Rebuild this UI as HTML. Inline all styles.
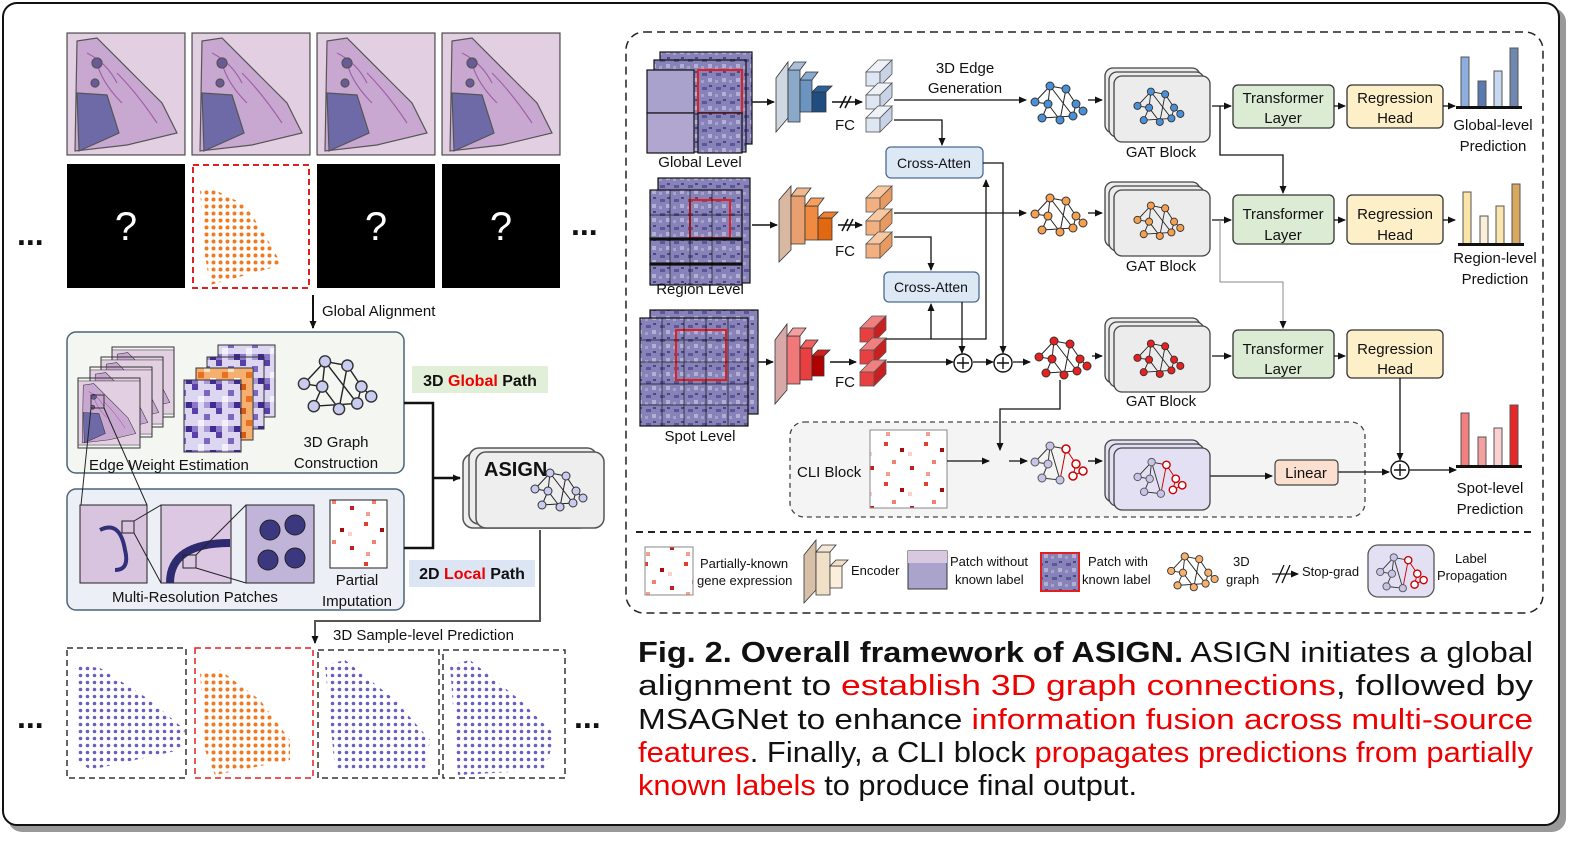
<!DOCTYPE html>
<html><head><meta charset="utf-8"><style>
html,body{margin:0;padding:0;background:#fff;}
svg{display:block;font-family:"Liberation Sans",Arial,sans-serif;}
</style></head><body>
<svg width="1595" height="844" viewBox="0 0 1595 844" xmlns="http://www.w3.org/2000/svg">
<defs>
<marker id="ar" markerWidth="8" markerHeight="8" refX="7" refY="4" orient="auto" markerUnits="userSpaceOnUse"><path d="M0,0.5 L8,4 L0,7.5 z" fill="#111"/></marker>
<pattern id="tis" width="14" height="14" patternUnits="userSpaceOnUse">
<rect width="14" height="14" fill="#8783b8"/><rect x="2" y="3" width="5" height="3" fill="#5b5799"/><rect x="8" y="8" width="4" height="4" fill="#b3aed3"/><rect x="9" y="1" width="3" height="2" fill="#4c4888"/><rect x="1" y="10" width="3" height="3" fill="#a6a0cc"/></pattern>
<pattern id="odots" width="7" height="7" patternUnits="userSpaceOnUse"><circle cx="3.5" cy="3.5" r="2" fill="#f07a22"/></pattern>
<pattern id="pdots" width="7" height="7" patternUnits="userSpaceOnUse"><circle cx="3.5" cy="3.5" r="1.8" fill="#6a5fc0"/></pattern>
<pattern id="pgrid" width="24" height="24" patternUnits="userSpaceOnUse"><rect width="24" height="24" fill="#dcd6f0"/><rect width="6" height="6" fill="#5a3fa8"/><rect x="12" y="6" width="6" height="6" fill="#7c66c0"/><rect x="6" y="12" width="6" height="6" fill="#f3f0fb"/><rect x="18" y="18" width="6" height="6" fill="#3f2a90"/><rect x="12" y="18" width="6" height="6" fill="#a898d8"/><rect x="0" y="18" width="6" height="6" fill="#8a78c8"/></pattern>
<pattern id="ogrid" width="24" height="24" patternUnits="userSpaceOnUse"><rect width="24" height="24" fill="#f5b070"/><rect width="6" height="6" fill="#d85a10"/><rect x="12" y="6" width="6" height="6" fill="#fbe0c8"/><rect x="6" y="12" width="6" height="6" fill="#e87020"/><rect x="18" y="18" width="6" height="6" fill="#fff"/></pattern>
<pattern id="rmat" width="40" height="40" patternUnits="userSpaceOnUse"><rect width="40" height="40" fill="#fff"/><rect x="4" y="2" width="4" height="4" fill="#e04030"/><rect x="20" y="8" width="4" height="4" fill="#a01010"/><rect x="12" y="20" width="4" height="4" fill="#f08070"/><rect x="30" y="26" width="4" height="4" fill="#c02020"/><rect x="6" y="32" width="4" height="4" fill="#f4a090"/><rect x="28" y="12" width="4" height="4" fill="#fbd0c8"/></pattern>
<symbol id="gr" viewBox="0 0 56 42" overflow="visible">
<g stroke="#222" stroke-width="1" fill="none"><path d="M5,22 L20,6 M5,22 L18,24 M20,6 L18,24 M20,6 L36,9 M36,9 L30,40 M18,24 L12,38 M12,38 L43,36 M36,9 L46,24 M46,24 L43,36 M20,6 L43,36 M18,24 L30,40 M46,24 L53,31"/></g>
<g stroke="#333" stroke-width="1"><circle cx="5" cy="22" r="4"/><circle cx="20" cy="6" r="4"/><circle cx="18" cy="24" r="4"/><circle cx="36" cy="9" r="4"/><circle cx="46" cy="24" r="4"/><circle cx="12" cy="38" r="4"/><circle cx="43" cy="36" r="4"/><circle cx="30" cy="40" r="4"/><circle cx="53" cy="31" r="4"/></g>
</symbol>
<symbol id="lp" viewBox="0 0 56 42" overflow="visible">
<g stroke="#333" stroke-width="1" fill="none"><path d="M5,22 L20,6 M5,22 L18,24 M20,6 L18,24 M20,6 L36,9 M18,24 L12,38 M12,38 L30,40 M20,6 L30,40"/><path d="M36,9 L46,24 M46,24 L43,36 M43,36 L53,31 M36,9 L30,40" stroke="#c00"/></g>
<g stroke="#555" fill="#c8c4e8"><circle cx="5" cy="22" r="4"/><circle cx="20" cy="6" r="4"/><circle cx="18" cy="24" r="4"/><circle cx="12" cy="38" r="4"/><circle cx="30" cy="40" r="4"/></g>
<g stroke="#c00" fill="#fff" stroke-width="1.5"><circle cx="36" cy="9" r="4"/><circle cx="46" cy="24" r="4"/><circle cx="43" cy="36" r="4"/><circle cx="53" cy="31" r="4"/></g>
</symbol>
<symbol id="tissue" viewBox="0 0 118 122">
<rect width="118" height="122" fill="#e2d0e2"/>
<polygon points="10,8 30,5 70,45 95,70 110,100 60,112 8,118" fill="#c8a8d0"/>
<polygon points="10,60 40,62 52,100 12,118" fill="#6e6aa8"/>
<path d="M20,20 q20,10 30,30 M50,40 q20,20 40,50 M30,30 q5,20 25,40" stroke="#a060a8" fill="none"/>
<circle cx="30" cy="30" r="5" fill="#6a5a98"/><circle cx="28" cy="50" r="4" fill="#6a5a98"/>
</symbol>
</defs>

<!-- outer frame -->
<rect x="8" y="8" width="1558" height="824" rx="14" fill="#999"/>
<rect x="3" y="3" width="1556" height="822" rx="14" fill="#fff" stroke="#111" stroke-width="2"/>

<!-- LEFT top tissue row -->
<g stroke="#555" stroke-width="1.2">
<use href="#tissue" x="67" y="33" width="118" height="122"/><rect x="67" y="33" width="118" height="122" fill="none"/>
<use href="#tissue" x="192" y="33" width="118" height="122"/><rect x="192" y="33" width="118" height="122" fill="none"/>
<use href="#tissue" x="317" y="33" width="118" height="122"/><rect x="317" y="33" width="118" height="122" fill="none"/>
<use href="#tissue" x="442" y="33" width="118" height="122"/><rect x="442" y="33" width="118" height="122" fill="none"/>
</g>
<rect x="67" y="164" width="118" height="124" fill="#000"/>
<rect x="317" y="164" width="118" height="124" fill="#000"/>
<rect x="442" y="164" width="118" height="124" fill="#000"/>
<g fill="#fff" font-size="40" text-anchor="middle"><text x="126" y="240">?</text><text x="376" y="240">?</text><text x="501" y="240">?</text></g>
<rect x="193" y="165" width="116" height="123" fill="#fff" stroke="#e02020" stroke-width="2" stroke-dasharray="6,4"/>
<polygon points="200,190 215,190 245,205 265,235 282,265 210,285 205,255" fill="url(#odots)"/>
<g font-size="32" font-weight="bold" fill="#111"><text x="17" y="245">...</text><text x="571" y="235">...</text><text x="17" y="728">...</text><text x="574" y="728">...</text></g>

<line x1="313" y1="295" x2="313" y2="328" stroke="#111" stroke-width="2" marker-end="url(#ar)"/>
<text x="322" y="316" font-size="15" fill="#111">Global Alignment</text>

<!-- green box -->
<rect x="67" y="332" width="337" height="141" rx="9" fill="#f4f7f1" stroke="#4a6478" stroke-width="1.5"/>
<g stroke="#333" stroke-width="1">
<use href="#tissue" x="112" y="347" width="62" height="70"/><rect x="112" y="347" width="62" height="70" fill="none"/>
<use href="#tissue" x="101" y="357" width="62" height="70"/><rect x="101" y="357" width="62" height="70" fill="none"/>
<use href="#tissue" x="90" y="367" width="62" height="70"/><rect x="90" y="367" width="62" height="70" fill="none"/>
<use href="#tissue" x="78" y="378" width="62" height="70"/><rect x="78" y="378" width="62" height="70" fill="none"/>
<rect x="91" y="395" width="13" height="13" fill="none"/>
<rect x="218" y="345" width="57" height="72" fill="url(#pgrid)"/>
<rect x="207" y="357" width="57" height="72" fill="url(#pgrid)"/>
<rect x="196" y="368" width="57" height="72" fill="url(#ogrid)"/>
<rect x="184" y="380" width="57" height="72" fill="url(#pgrid)"/>
</g>
<g transform="translate(297,353) scale(1.4)" fill="#c9cbef"><use href="#gr" width="56" height="42" style="fill:#c9cbef"/></g>
<text x="89" y="470" font-size="15" fill="#111">Edge Weight Estimation</text>
<text x="336" y="447" font-size="15" fill="#111" text-anchor="middle">3D Graph</text>
<text x="336" y="468" font-size="15" fill="#111" text-anchor="middle">Construction</text>

<!-- blue box -->
<rect x="67" y="489" width="337" height="121" rx="9" fill="#eceff6" stroke="#4a6478" stroke-width="1.5"/>
<g stroke="#222" stroke-width="1">
<rect x="80" y="505" width="67" height="78" fill="#d8c4df"/><path d="M100,530 q20,-10 25,20 q5,20 -10,20" stroke="#33307a" stroke-width="4" fill="none"/>
<rect x="161" y="505" width="70" height="78" fill="#dcc8e2"/><path d="M170,583 q0,-40 60,-40" stroke="#2e2a70" stroke-width="8" fill="none"/>
<rect x="246" y="505" width="68" height="78" fill="#c0b4d8"/><circle cx="270" cy="530" r="10" fill="#3c3880"/><circle cx="295" cy="525" r="10" fill="#3c3880"/><circle cx="268" cy="560" r="10" fill="#3c3880"/><circle cx="295" cy="558" r="10" fill="#3c3880"/>
<rect x="122" y="521" width="12" height="12" fill="none"/><rect x="183" y="555" width="13" height="13" fill="none"/>
<path d="M91,408 L81,505 M104,408 L147,505 M134,521 L161,505 M134,533 L161,583 M196,555 L246,505 M196,568 L246,583"/>
<rect x="330" y="500" width="57" height="68" fill="url(#rmat)"/>
</g>
<text x="112" y="602" font-size="15" fill="#111">Multi-Resolution Patches</text>
<text x="357" y="585" font-size="15" fill="#111" text-anchor="middle">Partial</text>
<text x="357" y="606" font-size="15" fill="#111" text-anchor="middle">Imputation</text>

<rect x="412" y="366" width="136" height="27" fill="#e1efd8"/>
<text x="480" y="386" font-size="16" font-weight="bold" text-anchor="middle" fill="#111">3D <tspan fill="#e00">Global</tspan> Path</text>
<rect x="409" y="560" width="126" height="27" fill="#dce5f4"/>
<text x="472" y="579" font-size="16" font-weight="bold" text-anchor="middle" fill="#111">2D <tspan fill="#e00">Local</tspan> Path</text>

<path d="M404,403 H433 V548 H404" stroke="#111" stroke-width="2.5" fill="none"/>
<line x1="433" y1="478" x2="460" y2="478" stroke="#111" stroke-width="2.5" marker-end="url(#ar)"/>
<!-- ASIGN -->
<rect x="463" y="454" width="126" height="74" rx="10" fill="#eee" stroke="#555" stroke-width="1.5"/>
<rect x="469" y="448" width="128" height="76" rx="10" fill="#eee" stroke="#555" stroke-width="1.5"/>
<rect x="476" y="452" width="128" height="76" rx="10" fill="#eee" stroke="#555" stroke-width="1.5"/>
<text x="484" y="476" font-size="20" font-weight="bold" fill="#111">ASIGN</text>
<use href="#gr" x="530" y="467" width="56" height="42" style="fill:#c9cbef"/>
<path d="M540,530 V621 H315 V643" stroke="#555" stroke-width="2" fill="none" marker-end="url(#ar)"/>
<text x="333" y="640" font-size="15" fill="#111">3D Sample-level Prediction</text>

<!-- bottom row -->
<g fill="#fff" stroke-width="1.5" stroke-dasharray="6,4">
<rect x="67" y="648" width="119" height="130" stroke="#333"/>
<rect x="195" y="648" width="118" height="130" stroke="#e02020"/>
<rect x="318" y="650" width="121" height="128" stroke="#333"/>
<rect x="443" y="650" width="122" height="128" stroke="#333"/>
</g>
<polygon points="75,665 100,668 150,700 185,730 180,750 90,770 78,760" fill="url(#pdots)"/>
<polygon points="200,672 220,670 260,700 290,740 290,760 215,775 205,750" fill="url(#odots)"/>
<polygon points="325,665 345,660 395,700 430,740 425,770 335,770" fill="url(#pdots)"/>
<polygon points="450,665 470,660 520,700 555,735 545,770 458,775" fill="url(#pdots)"/>

<!-- RIGHT PANEL -->
<rect x="626" y="32" width="917" height="581" rx="18" fill="none" stroke="#222" stroke-width="1.5" stroke-dasharray="8,5"/>
<line x1="636" y1="532" x2="1535" y2="532" stroke="#222" stroke-width="2" stroke-dasharray="7,5"/>

<!-- patch stacks -->
<g stroke="#111" stroke-width="1.2">
<rect x="660" y="52" width="92" height="92" fill="url(#tis)"/>
<rect x="654" y="60" width="92" height="92" fill="url(#tis)"/>
<rect x="647" y="70" width="47" height="43" fill="#a8a2cc"/><rect x="698" y="70" width="44" height="43" fill="url(#tis)" stroke="#e02020" stroke-width="2"/>
<rect x="647" y="113" width="47" height="40" fill="#b0a6d0"/><rect x="698" y="113" width="44" height="40" fill="url(#tis)"/>
<rect x="658" y="178" width="92" height="105" fill="url(#tis)"/>
<rect x="650" y="190" width="92" height="95" fill="url(#tis)"/>
<rect x="690" y="200" width="40" height="38" fill="none" stroke="#e02020" stroke-width="2"/>
<rect x="650" y="238" width="92" height="2" fill="#111"/><rect x="650" y="263" width="92" height="2" fill="#111"/>
<rect x="650" y="310" width="108" height="104" fill="url(#tis)"/>
<rect x="640" y="318" width="108" height="108" fill="url(#tis)"/>
<rect x="676" y="330" width="50" height="50" fill="none" stroke="#e02020" stroke-width="2"/>
</g>
<g stroke="#000" stroke-width="1" opacity="0.6">
<path d="M640,340 H748 M640,362 H748 M640,384 H748 M640,405 H748 M662,318 V426 M684,318 V426 M706,318 V426 M728,318 V426"/>
<path d="M650,215 H742 M670,190 V285 M690,190 V285 M712,190 V285"/>
</g>
<g font-size="15" fill="#111" text-anchor="middle"><text x="700" y="167">Global Level</text><text x="700" y="294">Region Level</text><text x="700" y="441">Spot Level</text></g>

<!-- encoders -->
<g stroke="#333" stroke-width="0.8">
<polygon points="776,78 788,62 788,118 776,132" fill="#cfd8e0"/>
<polygon points="788,70 800,70 800,122 788,122" fill="#8aa8c8"/><polygon points="788,70 800,70 806,62 794,62" fill="#aac0d8"/>
<polygon points="800,80 812,80 812,112 800,112" fill="#6b94c0"/><polygon points="800,80 812,80 818,72 806,72" fill="#88aad0"/>
<polygon points="812,92 826,92 826,112 812,112" fill="#1f4d80"/><polygon points="812,92 826,92 832,86 818,86" fill="#2d6098"/>
<polygon points="779,200 791,186 791,250 779,262" fill="#d8b8a0"/>
<polygon points="791,196 805,196 805,244 791,244" fill="#e8a070"/><polygon points="791,196 805,196 811,188 797,188" fill="#f0b890"/>
<polygon points="805,206 818,206 818,240 805,240" fill="#f08a40"/><polygon points="805,206 818,206 824,198 811,198" fill="#f5a060"/>
<polygon points="818,218 832,218 832,240 818,240" fill="#e06810"/><polygon points="818,218 832,218 838,212 824,212" fill="#f08030"/>
<polygon points="775,340 787,324 787,390 775,404" fill="#d8a8a8"/>
<polygon points="787,336 800,336 800,384 787,384" fill="#f07878"/><polygon points="787,336 800,336 806,328 793,328" fill="#f5a0a0"/>
<polygon points="800,348 812,348 812,380 800,380" fill="#e84040"/><polygon points="800,348 812,348 818,340 806,340" fill="#f06060"/>
<polygon points="812,356 824,356 824,376 812,376" fill="#b00000"/><polygon points="812,356 824,356 830,350 818,350" fill="#d02020"/>
</g>
<g stroke="#111" stroke-width="1.5" fill="none">
<line x1="752" y1="102" x2="774" y2="102" marker-end="url(#ar)"/>
<line x1="752" y1="225" x2="777" y2="225" marker-end="url(#ar)"/>
<line x1="758" y1="362" x2="773" y2="362" marker-end="url(#ar)"/>
<line x1="832" y1="102" x2="862" y2="102" marker-end="url(#ar)"/>
<line x1="838" y1="225" x2="862" y2="225" marker-end="url(#ar)"/>
<line x1="830" y1="362" x2="856" y2="362" marker-end="url(#ar)"/>
<path d="M840,108 L846,96 M845,108 L851,96"/><path d="M842,231 L848,219 M847,231 L853,219"/>
</g>
<g font-size="15" fill="#111"><text x="835" y="130">FC</text><text x="835" y="256">FC</text><text x="835" y="387">FC</text></g>
<!-- FC bars -->
<g stroke="#555" stroke-width="0.8">
<polygon points="866,72 880,72 892,60 878,60" fill="#eef2f8"/><rect x="866" y="72" width="14" height="14" fill="#dde6f2"/><polygon points="880,72 892,60 892,74 880,86" fill="#c8d4e6"/>
<polygon points="866,95 880,95 892,83 878,83" fill="#eef2f8"/><rect x="866" y="95" width="14" height="14" fill="#dde6f2"/><polygon points="880,95 892,83 892,97 880,109" fill="#c8d4e6"/>
<polygon points="866,118 880,118 892,106 878,106" fill="#eef2f8"/><rect x="866" y="118" width="14" height="14" fill="#dde6f2"/><polygon points="880,118 892,106 892,120 880,132" fill="#c8d4e6"/>
<polygon points="866,198 880,198 892,186 878,186" fill="#f8c8a0"/><rect x="866" y="198" width="14" height="14" fill="#f2b080"/><polygon points="880,198 892,186 892,200 880,212" fill="#e89a60"/>
<polygon points="866,221 880,221 892,209 878,209" fill="#f8c8a0"/><rect x="866" y="221" width="14" height="14" fill="#f2b080"/><polygon points="880,221 892,209 892,223 880,235" fill="#e89a60"/>
<polygon points="866,244 880,244 892,232 878,232" fill="#f8c8a0"/><rect x="866" y="244" width="14" height="14" fill="#f2b080"/><polygon points="880,244 892,232 892,246 880,258" fill="#e89a60"/>
<polygon points="860,328 874,328 886,316 872,316" fill="#f08080"/><rect x="860" y="328" width="14" height="14" fill="#e84040"/><polygon points="874,328 886,316 886,330 874,342" fill="#c82020"/>
<polygon points="860,350 874,350 886,338 872,338" fill="#f08080"/><rect x="860" y="350" width="14" height="14" fill="#e84040"/><polygon points="874,350 886,338 886,352 874,364" fill="#c82020"/>
<polygon points="860,372 874,372 886,360 872,360" fill="#f08080"/><rect x="860" y="372" width="14" height="14" fill="#e84040"/><polygon points="874,372 886,360 886,374 874,386" fill="#c82020"/>
</g>
<text x="965" y="73" font-size="15" text-anchor="middle" fill="#111">3D Edge</text>
<text x="965" y="93" font-size="15" text-anchor="middle" fill="#111">Generation</text>

<!-- cross atten -->
<rect x="886" y="147" width="97" height="31" rx="5" fill="#dde8f5" stroke="#4a6a90" stroke-width="1.3"/>
<text x="934" y="168" font-size="14" text-anchor="middle" fill="#111">Cross-Atten</text>
<rect x="884" y="272" width="95" height="30" rx="5" fill="#dde8f5" stroke="#4a6a90" stroke-width="1.3"/>
<text x="931" y="292" font-size="14" text-anchor="middle" fill="#111">Cross-Atten</text>

<g stroke="#111" stroke-width="1.3" fill="none">
<line x1="894" y1="100" x2="1026" y2="100" marker-end="url(#ar)"/>
<path d="M894,120 H942 V145" marker-end="url(#ar)"/>
<line x1="894" y1="213" x2="1026" y2="213" marker-end="url(#ar)"/>
<path d="M894,237 H931 V270" marker-end="url(#ar)"/>
<path d="M886,339 H986 V180" marker-end="url(#ar)"/>
<path d="M931,339 V304" marker-end="url(#ar)"/>
<path d="M962,302 V353" marker-end="url(#ar)"/>
<path d="M983,163 H1003 V353" marker-end="url(#ar)"/>
<line x1="887" y1="362" x2="953" y2="362" marker-end="url(#ar)"/>
<line x1="973" y1="362" x2="993" y2="362" marker-end="url(#ar)"/>
<line x1="1013" y1="362" x2="1030" y2="362" marker-end="url(#ar)"/>
</g>
<g fill="#fff" stroke="#111" stroke-width="1.4"><circle cx="963" cy="363" r="9"/><circle cx="1003" cy="363" r="9"/><circle cx="1000" cy="461" r="9"/><circle cx="1400" cy="470" r="9"/></g>
<g stroke="#111" stroke-width="1.4"><path d="M957,363 H969 M963,357 V369 M997,363 H1009 M1003,357 V369 M994,461 H1006 M1000,455 V467 M1394,470 H1406 M1400,464 V476"/></g>

<!-- graphs -->
<use href="#gr" x="1030" y="80" width="56" height="42" style="fill:#4a90d8"/>
<use href="#gr" x="1030" y="192" width="56" height="42" style="fill:#f5a050"/>
<use href="#gr" x="1034" y="335" width="56" height="42" style="fill:#e82020"/>
<g stroke="#111" stroke-width="1.3"><line x1="1088" y1="100" x2="1102" y2="100" marker-end="url(#ar)"/><line x1="1088" y1="213" x2="1102" y2="213" marker-end="url(#ar)"/><line x1="1092" y1="356" x2="1102" y2="356" marker-end="url(#ar)"/></g>

<!-- GAT blocks -->
<g stroke="#444" stroke-width="1.3" fill="#ececec">
<rect x="1105" y="68" width="95" height="65" rx="8"/><rect x="1109" y="72" width="95" height="65" rx="8"/><rect x="1114" y="76" width="96" height="66" rx="8"/>
<rect x="1105" y="182" width="95" height="65" rx="8"/><rect x="1109" y="186" width="95" height="65" rx="8"/><rect x="1114" y="190" width="96" height="66" rx="8"/>
<rect x="1105" y="318" width="95" height="65" rx="8"/><rect x="1109" y="322" width="95" height="65" rx="8"/><rect x="1114" y="326" width="96" height="66" rx="8"/>
</g>
<use href="#gr" x="1133" y="86" width="50" height="38" style="fill:#4a90d8"/>
<use href="#gr" x="1133" y="200" width="50" height="38" style="fill:#f5a050"/>
<use href="#gr" x="1133" y="338" width="50" height="38" style="fill:#e82020"/>
<g font-size="15" fill="#111" text-anchor="middle"><text x="1161" y="157">GAT Block</text><text x="1161" y="271">GAT Block</text><text x="1161" y="406">GAT Block</text></g>

<!-- transformer/regression -->
<g stroke="#333" stroke-width="1.3">
<rect x="1233" y="85" width="101" height="43" rx="5" fill="#dcebd3"/>
<rect x="1347" y="85" width="96" height="43" rx="5" fill="#fdf0c8"/>
<rect x="1233" y="195" width="101" height="49" rx="5" fill="#dcebd3"/>
<rect x="1347" y="195" width="96" height="49" rx="5" fill="#fdf0c8"/>
<rect x="1233" y="330" width="101" height="48" rx="5" fill="#dcebd3"/>
<rect x="1347" y="330" width="96" height="48" rx="5" fill="#fdf0c8"/>
</g>
<g font-size="15" fill="#111" text-anchor="middle">
<text x="1283" y="103">Transformer</text><text x="1283" y="123">Layer</text>
<text x="1395" y="103">Regression</text><text x="1395" y="123">Head</text>
<text x="1283" y="219">Transformer</text><text x="1283" y="240">Layer</text>
<text x="1395" y="219">Regression</text><text x="1395" y="240">Head</text>
<text x="1283" y="354">Transformer</text><text x="1283" y="374">Layer</text>
<text x="1395" y="354">Regression</text><text x="1395" y="374">Head</text>
</g>
<g stroke="#111" stroke-width="1.3" fill="none">
<line x1="1212" y1="106" x2="1231" y2="106" marker-end="url(#ar)"/>
<line x1="1334" y1="106" x2="1345" y2="106" marker-end="url(#ar)"/>
<line x1="1443" y1="106" x2="1455" y2="106" marker-end="url(#ar)"/>
<line x1="1212" y1="220" x2="1231" y2="220" marker-end="url(#ar)"/>
<line x1="1334" y1="220" x2="1345" y2="220" marker-end="url(#ar)"/>
<line x1="1443" y1="220" x2="1455" y2="220" marker-end="url(#ar)"/>
<line x1="1212" y1="356" x2="1231" y2="356" marker-end="url(#ar)"/>
<line x1="1334" y1="356" x2="1345" y2="356" marker-end="url(#ar)"/>
<path d="M1220,106 V155 H1283 V193" marker-end="url(#ar)"/>
<path d="M1400,378 V460" marker-end="url(#ar)"/>
<line x1="1409" y1="470" x2="1456" y2="470" marker-end="url(#ar)"/>
</g>
<path d="M1220,220 V282 H1283 V328" stroke="#888" stroke-width="1" fill="none" marker-end="url(#ar)"/>

<!-- bar charts -->
<g stroke="#555" stroke-width="1">
<rect x="1461" y="57" width="8" height="50" fill="#8eaee0"/><rect x="1478" y="81" width="8" height="26" fill="#5a7ab0"/><rect x="1494" y="71" width="8" height="36" fill="#c8d8f0"/><rect x="1510" y="48" width="8" height="59" fill="#7088b0"/>
<rect x="1463" y="192" width="8" height="52" fill="#fbe4a8"/><rect x="1480" y="216" width="8" height="28" fill="#fcefd8"/><rect x="1496" y="206" width="8" height="38" fill="#fce6b0"/><rect x="1512" y="184" width="8" height="60" fill="#d8a860"/>
<rect x="1461" y="413" width="8" height="53" fill="#f08080"/><rect x="1478" y="437" width="8" height="29" fill="#f4a0a0"/><rect x="1494" y="428" width="8" height="38" fill="#fbd0d0"/><rect x="1510" y="405" width="8" height="61" fill="#e82828"/>
</g>
<g fill="#111"><rect x="1456" y="106" width="66" height="3"/><rect x="1458" y="243" width="66" height="3"/><rect x="1456" y="465" width="66" height="3"/></g>
<g font-size="15" fill="#111" text-anchor="middle">
<text x="1493" y="130">Global-level</text><text x="1493" y="151">Prediction</text>
<text x="1495" y="263">Region-level</text><text x="1495" y="284">Prediction</text>
<text x="1490" y="493">Spot-level</text><text x="1490" y="514">Prediction</text>
</g>

<!-- CLI block -->
<rect x="790" y="422" width="575" height="95" rx="14" fill="#f4f4f4" stroke="#444" stroke-width="1.3" stroke-dasharray="5,4"/>
<text x="797" y="477" font-size="15" fill="#111">CLI Block</text>
<rect x="870" y="430" width="77" height="78" fill="url(#rmat)" stroke="#888"/>
<g stroke="#111" stroke-width="1.3" fill="none">
<path d="M1060,380 V409 H1000 V450" marker-end="url(#ar)"/>
<line x1="947" y1="461" x2="989" y2="461" marker-end="url(#ar)"/>
<line x1="1009" y1="461" x2="1027" y2="461" marker-end="url(#ar)"/>
<line x1="1088" y1="461" x2="1102" y2="461" marker-end="url(#ar)"/>
<line x1="1210" y1="476" x2="1272" y2="476" marker-end="url(#ar)"/>
<line x1="1338" y1="472" x2="1389" y2="472" marker-end="url(#ar)"/>
</g>
<use href="#lp" x="1030" y="440" width="56" height="42"/>
<g stroke="#444" stroke-width="1.3" fill="#e4e0f4">
<rect x="1105" y="440" width="95" height="62" rx="8"/><rect x="1109" y="444" width="95" height="62" rx="8"/><rect x="1114" y="448" width="96" height="62" rx="8"/>
</g>
<use href="#lp" x="1133" y="456" width="52" height="40"/>
<rect x="1275" y="460" width="63" height="25" rx="4" fill="#fbe0d0" stroke="#444" stroke-width="1.2"/>
<text x="1306" y="478" font-size="15" text-anchor="middle" fill="#111">Linear</text>

<!-- legend -->
<rect x="645" y="547" width="48" height="48" fill="url(#rmat)" stroke="#888"/>
<g font-size="13" fill="#111">
<text x="700" y="568">Partially-known</text><text x="697" y="585">gene expression</text>
<text x="851" y="575">Encoder</text>
<text x="950" y="566">Patch without</text><text x="955" y="584">known label</text>
<text x="1088" y="566">Patch with</text><text x="1082" y="584">known label</text>
<text x="1233" y="566">3D</text><text x="1226" y="584">graph</text>
<text x="1302" y="576">Stop-grad</text>
<text x="1455" y="563">Label</text><text x="1437" y="580">Propagation</text>
</g>
<g stroke="#333" stroke-width="0.8">
<polygon points="804,555 816,540 816,590 804,603" fill="#d8c0a8"/>
<polygon points="816,552 830,552 830,595 816,595" fill="#f0e0c8"/><polygon points="816,552 830,552 836,545 822,545" fill="#f5e8d8"/>
<polygon points="830,566 842,566 842,588 830,588" fill="#fbeedd"/><polygon points="830,566 842,566 848,560 836,560" fill="#f0e0c8"/>
</g>
<rect x="908" y="551" width="39" height="38" fill="#aaa4cc" stroke="#333"/><rect x="908" y="551" width="39" height="12" fill="#d8c8e0"/>
<rect x="1041" y="553" width="38" height="38" fill="url(#tis)" stroke="#e02020" stroke-width="2"/>
<use href="#gr" x="1166" y="551" width="52" height="38" style="fill:#f5b070"/>
<g stroke="#111" stroke-width="1.3" fill="none"><path d="M1276,583 L1284,565 M1282,583 L1290,565"/><line x1="1272" y1="574" x2="1298" y2="574" marker-end="url(#ar)"/></g>
<rect x="1368" y="545" width="66" height="52" rx="10" fill="#e4e0f4" stroke="#555" stroke-width="1.3"/>
<use href="#lp" x="1375" y="552" width="52" height="38"/>

<!-- caption -->
<g font-size="29" fill="#111" font-family="'Liberation Sans Narrow','Liberation Sans',Arial,sans-serif">
<text x="638" y="662" textLength="895" lengthAdjust="spacingAndGlyphs"><tspan font-weight="bold">Fig. 2. Overall framework of ASIGN.</tspan> ASIGN initiates a global</text>
<text x="638" y="695" textLength="895" lengthAdjust="spacingAndGlyphs">alignment   to   <tspan fill="#e00">establish   3D   graph   connections</tspan>,   followed   by</text>
<text x="638" y="729" textLength="895" lengthAdjust="spacingAndGlyphs">MSAGNet  to  enhance  <tspan fill="#e00">information  fusion  across  multi-source</tspan></text>
<text x="638" y="762" textLength="895" lengthAdjust="spacingAndGlyphs"><tspan fill="#e00">features</tspan>. Finally, a CLI block <tspan fill="#e00">propagates predictions from partially</tspan></text>
<text x="638" y="795" textLength="499" lengthAdjust="spacingAndGlyphs"><tspan fill="#e00">known labels</tspan> to produce final output.</text>
</g>
</svg>
</body></html>
